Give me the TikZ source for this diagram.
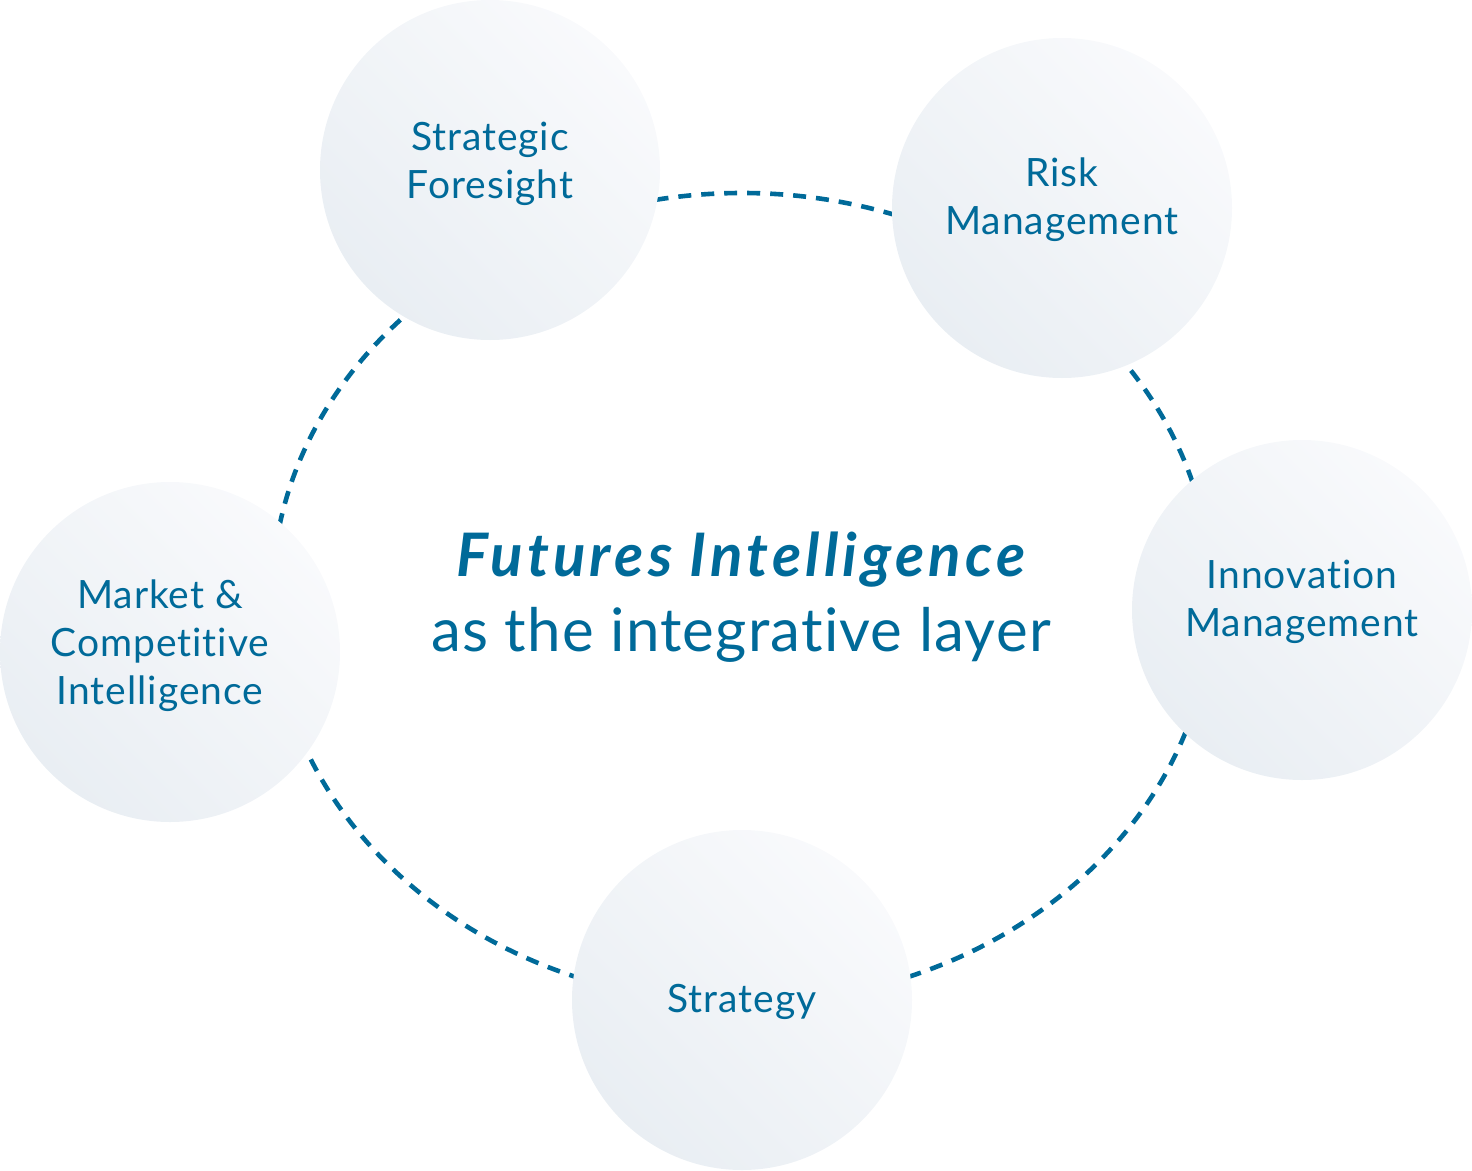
\documentclass[tikz,border=0pt]{standalone}
\usepackage{fontspec}
\setmainfont{Lato}[Ligatures=NoCommon]
\newfontfamily\lblfont{Lato}[Ligatures=NoCommon, LetterSpace=2.5]
\newfontfamily\subfont{Lato}[Ligatures=NoCommon, LetterSpace=2]
\newfontfamily\titlefont{Lato}[Ligatures=NoCommon, LetterSpace=7]
\definecolor{fiblue}{HTML}{006A99}
\definecolor{cirlight}{HTML}{F9FAFC}
\definecolor{cirdark}{HTML}{E9EEF3}
\tikzset{
  topic/.style={circle, minimum size=340pt, inner sep=0pt, top color=cirlight, bottom color=cirdark, shading angle=-45},
  lbl/.style={text=fiblue, align=center, font=\lblfont\fontsize{39}{48}\selectfont},
  ring/.style={draw=fiblue, line width=4.6pt, dash pattern=on 13pt off 10pt}
}
\begin{document}
\begin{tikzpicture}[x=1pt,y=-1pt]
\useasboundingbox (0,0) rectangle (1472,1170);
\draw[ring] (742,598) ellipse [x radius=470, y radius=405];
\node[topic] (sf) at (490,170) {};
\node[topic] (rm) at (1062,208) {};
\node[topic] (im) at (1302,610) {};
\node[topic] (st) at (742,1000) {};
\node[topic] (mci) at (170,652) {};
\node[lbl] (sft) at (490,164) {Strategic\\Foresight};
\node[lbl] (rmt) at (1062,200) {Risk\\Management};
\node[lbl] (imt) at (1302,602) {Innovation\\Management};
\node[lbl] (stt) at (742,1002) {Strategy};
\node[lbl] (mcit) at (160,646) {Market \&\\Competitive\\Intelligence};
\node[text=fiblue, align=center, font=\fontsize{60}{75}\selectfont] (ctr) at (741,597)
  {{\titlefont\bfseries\itshape Futures Intelligence}\\{\subfont as the integrative layer}};
\end{tikzpicture}
\end{document}
